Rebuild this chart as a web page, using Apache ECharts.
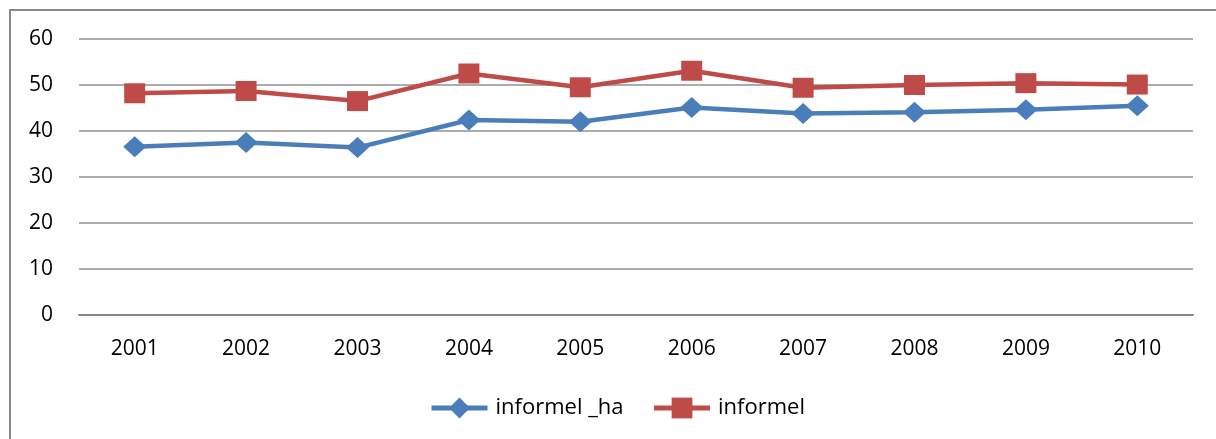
<!DOCTYPE html>
<html>
<head>
<meta charset="utf-8">
<script src="https://cdn.jsdelivr.net/npm/echarts@6/dist/echarts.min.js"></script>
<style>
html,body{margin:0;padding:0;background:#fff;}
#chart{width:1216px;height:439px;}
</style>
</head>
<body>
<div id="chart"></div>
<script>
const years = ['2001','2002','2003','2004','2005','2006','2007','2008','2009','2010'];
const informelHa = [36.6, 37.5, 36.4, 42.4, 42.0, 45.1, 43.8, 44.1, 44.6, 45.5];
const informel = [48.2, 48.7, 46.5, 52.5, 49.5, 53.1, 49.4, 50.0, 50.4, 50.1];
const seriesNames = ['informel _ha', 'informel'];
const yTicks = {min: 0, max: 60, interval: 10};

const FONT = '"Open Sans", sans-serif';
const chart = echarts.init(document.getElementById('chart'), null, {renderer: 'canvas'});
chart.setOption({
  animation: false,
  backgroundColor: '#ffffff',
  graphic: [{
    type: 'rect',
    shape: {x: 10, y: 10, width: 1400, height: 600},
    style: {fill: 'none', stroke: '#888888', lineWidth: 2},
    silent: true
  }],
  grid: {left: 79, right: 23, top: 39, bottom: 124, containLabel: false},
  legend: {
    left: 424, top: 392,
    itemWidth: 56, itemHeight: 26, itemGap: 28,
    lineStyle: {width: 5},
    textStyle: {fontFamily: FONT, fontSize: 22, color: '#000', padding: [0, 0, 0, 3]},
    data: seriesNames
  },
  xAxis: {
    type: 'category',
    data: years,
    boundaryGap: true,
    axisTick: {show: false},
    axisLine: {show: true, lineStyle: {color: '#868686', width: 2}},
    axisLabel: {fontFamily: FONT, fontSize: 21, color: '#000', margin: 24}
  },
  yAxis: {
    type: 'value',
    min: yTicks.min, max: yTicks.max, interval: yTicks.interval,
    axisLine: {show: false},
    axisTick: {show: false},
    axisLabel: {fontFamily: FONT, fontSize: 21, color: '#000', margin: 26},
    splitLine: {lineStyle: {color: '#909090', width: 1.5}}
  },
  series: [
    {
      name: seriesNames[0], type: 'line', data: informelHa,
      symbol: 'diamond', symbolSize: [23, 21],
      lineStyle: {color: '#4A7EBB', width: 4.5},
      itemStyle: {color: '#4A7EBB'}
    },
    {
      name: seriesNames[1], type: 'line', data: informel,
      symbol: 'rect', symbolSize: [21, 20],
      lineStyle: {color: '#BE4B48', width: 4.5},
      itemStyle: {color: '#BE4B48'}
    }
  ]
});
</script>
</body>
</html>
